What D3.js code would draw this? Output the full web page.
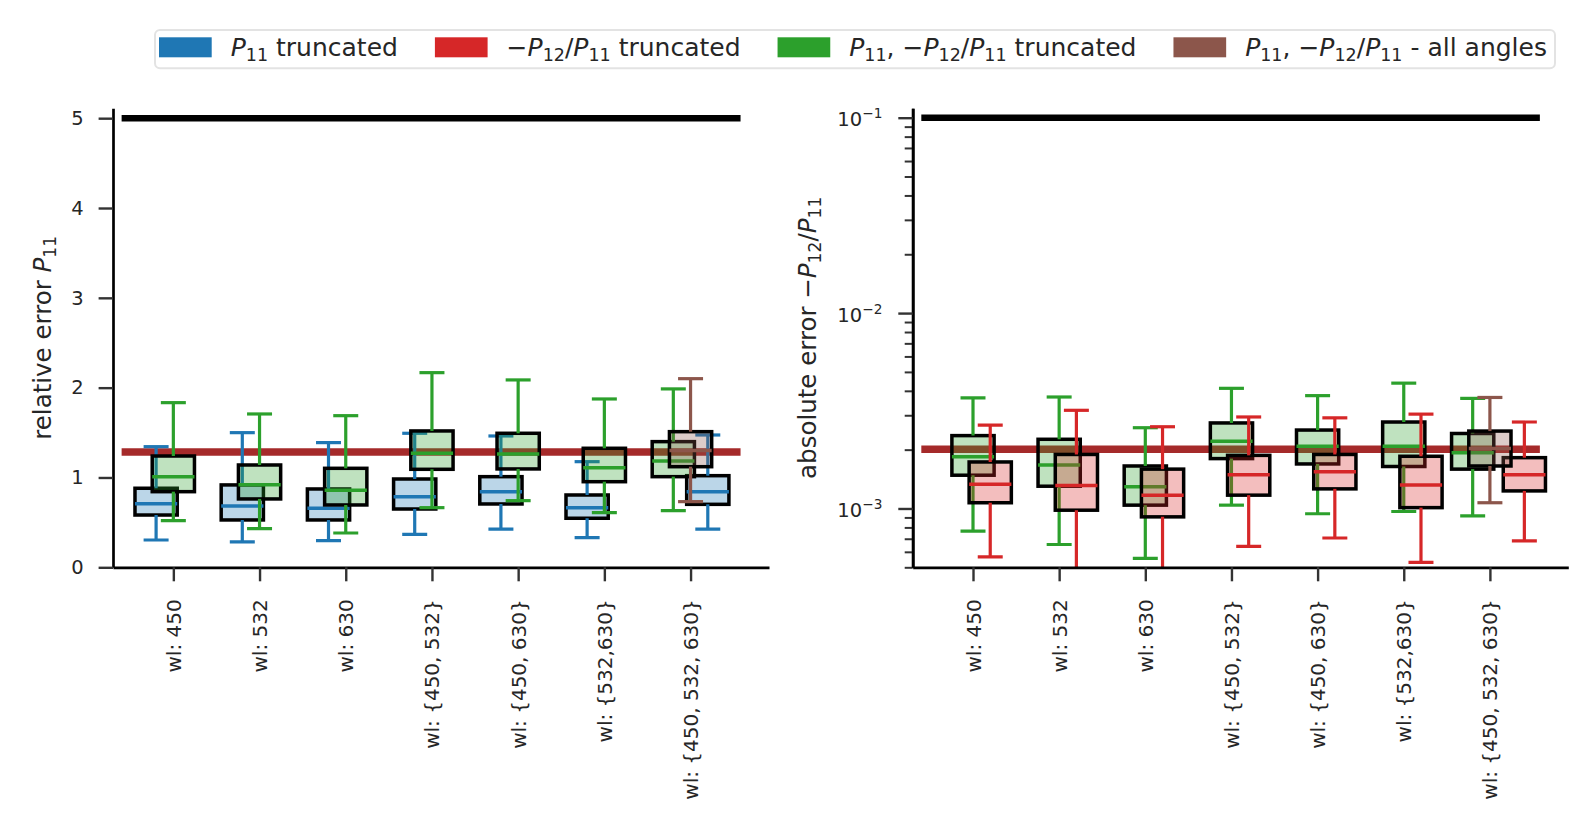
<!DOCTYPE html>
<html>
<head>
<meta charset="utf-8">
<script src="https://cdn.jsdelivr.net/npm/d3@7"></script>
<style>
  body { margin: 0; background: #fff; }
  svg { display: block; }
  text { font-family: "DejaVu Sans", sans-serif; fill: #262626; }
</style>
</head>
<body>
<div id="chart"></div>
<script>
// categories
const groups = ["wl: 450", "wl: 532", "wl: 630", "wl: {450, 532}", "wl: {450, 630}", "wl: {532,630}", "wl: {450, 532, 630}"];

// five-number boxes [lower whisker, q1, median, q3, upper whisker], one per group
// left panel: relative error P11
const relP11Trunc = [
  [0.304, 0.582, 0.708, 0.880, 1.343],
  [0.282, 0.527, 0.683, 0.917, 1.499],
  [0.297, 0.527, 0.657, 0.872, 1.388],
  [0.367, 0.649, 0.786, 0.983, 1.492],
  [0.426, 0.705, 0.842, 1.009, 1.462],
  [0.330, 0.546, 0.664, 0.805, 1.176],
  [0.426, 0.701, 0.842, 1.020, 1.473]
];
const relBothTrunc = [
  [0.519, 0.842, 1.009, 1.239, 1.833],
  [0.430, 0.761, 0.920, 1.139, 1.707],
  [0.382, 0.694, 0.857, 1.102, 1.688],
  [0.664, 1.091, 1.269, 1.518, 2.167],
  [0.742, 1.095, 1.262, 1.492, 2.086],
  [0.608, 0.953, 1.109, 1.325, 1.874],
  [0.630, 1.009, 1.184, 1.399, 1.986]
];
const relAllAngles = [null, null, null, null, null, null,
  [0.731, 1.120, 1.299, 1.510, 2.100]
];
const relRefLine = 1.284;
const relTopLine = 5;

// right panel: absolute error -P12/P11
const absBothTrunc = [
  [7.65e-4, 1.48e-3, 1.84e-3, 2.36e-3, 3.68e-3],
  [6.54e-4, 1.30e-3, 1.67e-3, 2.26e-3, 3.72e-3],
  [5.55e-4, 1.04e-3, 1.29e-3, 1.65e-3, 2.59e-3],
  [1.04e-3, 1.80e-3, 2.21e-3, 2.74e-3, 4.12e-3],
  [9.40e-4, 1.69e-3, 2.08e-3, 2.52e-3, 3.78e-3],
  [9.65e-4, 1.64e-3, 2.08e-3, 2.77e-3, 4.38e-3],
  [9.17e-4, 1.59e-3, 1.93e-3, 2.42e-3, 3.66e-3]
];
const absP12Trunc = [
  [5.65e-4, 1.07e-3, 1.33e-3, 1.73e-3, 2.67e-3],
  [4.40e-4, 9.80e-4, 1.31e-3, 1.89e-3, 3.18e-3],
  [4.50e-4, 9.06e-4, 1.17e-3, 1.59e-3, 2.62e-3],
  [6.40e-4, 1.17e-3, 1.49e-3, 1.87e-3, 2.94e-3],
  [7.06e-4, 1.26e-3, 1.54e-3, 1.89e-3, 2.91e-3],
  [5.30e-4, 1.01e-3, 1.32e-3, 1.85e-3, 3.04e-3],
  [6.82e-4, 1.23e-3, 1.49e-3, 1.82e-3, 2.77e-3]
];
const absAllAngles = [null, null, null, null, null, null,
  [1.07e-3, 1.65e-3, 2.03e-3, 2.49e-3, 3.70e-3]
];
const absRefLine = 2.01e-3;
const absTopLine = 0.1;

const relTicks = [0, 1, 2, 3, 4, 5];
const absTicks = [1e-3, 1e-2, 1e-1];
const absTickExp = ["−3", "−2", "−1"];

const colors = { blue: "#1f77b4", red: "#d62728", green: "#2ca02c", brown: "#8c564b" };

const legendItems = [
  { color: colors.blue,  parts: [["P", "i"], ["11", "sub"], [" truncated", ""]] },
  { color: colors.red,   parts: [["−", ""], ["P", "i"], ["12", "sub"], ["/", ""], ["P", "i"], ["11", "sub"], [" truncated", ""]] },
  { color: colors.green, parts: [["P", "i"], ["11", "sub"], [", −", ""], ["P", "i"], ["12", "sub"], ["/", ""], ["P", "i"], ["11", "sub"], [" truncated", ""]] },
  { color: colors.brown, parts: [["P", "i"], ["11", "sub"], [", −", ""], ["P", "i"], ["12", "sub"], ["/", ""], ["P", "i"], ["11", "sub"], [" - all angles", ""]] }
];

const W = 1596, H = 835;
const plotTop = 108.3, plotBottom = 567.3;
const boxW = 0.49, capW = 0.29;
const xTickFont = 20, yTickFont = 19.5, labelFont = 24.5, legendFont = 25;

const svg = d3.select("#chart").append("svg")
  .attr("width", W)
  .attr("height", H)
  .style("background", "#fff");

// text with italic / subscript / superscript parts
function rich(sel, parts, fs) {
  let shift = 0;
  parts.forEach(([t, k]) => {
    const ts = sel.append("tspan").text(t);
    let target = 0;
    if (k === "sub") { ts.attr("font-size", fs * 0.7); target = fs * 0.22; }
    if (k === "sup") { ts.attr("font-size", fs * 0.7); target = -fs * 0.42; }
    if (k === "i") ts.attr("font-style", "italic");
    if (target - shift !== 0) ts.attr("dy", target - shift);
    shift = target;
  });
}

function drawSeries(g, x, y, data, color, offset) {
  const items = data.map((d, i) => ({ d, i })).filter(e => e.d);
  const bx = g.selectAll(null).data(items).join("g");
  const half = (x(boxW) - x(0)) / 2;
  const capHalf = (x(capW) - x(0)) / 2;
  bx.each(function (e) {
    const s = d3.select(this);
    const [lo, q1, med, q3, hi] = e.d;
    const cx = x(e.i + offset(e.i));
    s.append("rect")
      .attr("x", cx - half).attr("width", 2 * half)
      .attr("y", y(q3)).attr("height", y(q1) - y(q3))
      .attr("fill", color).attr("fill-opacity", 0.3)
      .attr("stroke", "#000").attr("stroke-width", 3.5);
    s.append("line").attr("x1", cx).attr("x2", cx).attr("y1", y(q3)).attr("y2", y(hi))
      .attr("stroke", color).attr("stroke-width", 3.2);
    s.append("line").attr("x1", cx).attr("x2", cx).attr("y1", y(q1)).attr("y2", y(lo))
      .attr("stroke", color).attr("stroke-width", 3.2);
    [lo, hi].forEach(v => {
      s.append("line").attr("x1", cx - capHalf).attr("x2", cx + capHalf)
        .attr("y1", y(v)).attr("y2", y(v))
        .attr("stroke", color).attr("stroke-width", 3.2);
    });
    s.append("line").attr("x1", cx - half).attr("x2", cx + half)
      .attr("y1", y(med)).attr("y2", y(med))
      .attr("stroke", color).attr("stroke-width", 3.5);
  });
}

function styleAxis(ax, fs) {
  ax.select(".domain").attr("stroke", "#000").attr("stroke-width", 2.7);
  ax.selectAll(".tick line").attr("stroke", "#333").attr("stroke-width", 2.4);
  ax.selectAll(".tick text").attr("font-size", fs).attr("fill", "#262626")
    .attr("font-family", "DejaVu Sans");
}

function panel(id, xRange, y, series, refLine, topLine, yAxisFn, labelParts, labelX) {
  const x = d3.scaleLinear().domain([-0.7, 6.91]).range(xRange);
  const g = svg.append("g");

  g.append("clipPath").attr("id", id)
    .append("rect").attr("x", xRange[0]).attr("y", plotTop)
    .attr("width", xRange[1] - xRange[0]).attr("height", plotBottom - plotTop);

  const inner = g.append("g").attr("clip-path", `url(#${id})`);

  inner.append("line")
    .attr("x1", x(-0.6)).attr("x2", x(6.58))
    .attr("y1", y(topLine)).attr("y2", y(topLine))
    .attr("stroke", "#000").attr("stroke-width", 6.6);
  inner.append("line")
    .attr("x1", x(-0.6)).attr("x2", x(6.58))
    .attr("y1", y(refLine)).attr("y2", y(refLine))
    .attr("stroke", "#a52a2a").attr("stroke-width", 7.5);

  series.forEach(s => drawSeries(inner.append("g"), x, y, s.data, s.color, s.offset));

  // x axis
  const xa = g.append("g")
    .attr("transform", `translate(0,${plotBottom})`)
    .call(d3.axisBottom(x).tickValues(d3.range(groups.length))
      .tickFormat(i => groups[i]).tickSize(14).tickSizeOuter(0));
  styleAxis(xa, xTickFont);
  xa.selectAll(".tick text")
    .attr("transform", "rotate(-90)")
    .attr("x", -32).attr("y", 0).attr("dy", "0.35em")
    .attr("text-anchor", "end");

  // y axis
  const ya = g.append("g").attr("transform", `translate(${xRange[0]},0)`);
  yAxisFn(ya);

  // y label
  const lab = g.append("text")
    .attr("transform", `translate(${labelX},${(plotTop + plotBottom) / 2}) rotate(-90)`)
    .attr("text-anchor", "middle")
    .attr("font-size", labelFont);
  rich(lab, labelParts, labelFont);
}

// left panel
const yRel = d3.scaleLinear().domain([0, 5.11]).range([plotBottom, plotTop]);
panel("clipL", [113, 769], yRel, [
  { data: relP11Trunc,  color: colors.blue,  offset: i => (i === 6 ? 0.2 : -0.2) },
  { data: relBothTrunc, color: colors.green, offset: i => (i === 6 ? -0.2 : 0) },
  { data: relAllAngles, color: colors.brown, offset: () => 0 }
], relRefLine, relTopLine, ya => {
  ya.call(d3.axisLeft(yRel).tickValues(relTicks).tickFormat(d3.format("d"))
    .tickSize(14.4).tickPadding(15).tickSizeOuter(0));
  styleAxis(ya, yTickFont);
}, [["relative error ", ""], ["P", "i"], ["11", "sub"]], 51);

// right panel
const yAbs = d3.scaleLog().domain([5e-4, 0.1117]).range([plotBottom, plotTop]);
const minorTicks = [];
[1e-4, 1e-3, 1e-2].forEach(b => d3.range(2, 10).forEach(m => {
  const v = m * b;
  if (v >= 5e-4 && v <= 0.1117) minorTicks.push(v);
}));
panel("clipR", [912.7, 1568.3], yAbs, [
  { data: absBothTrunc, color: colors.green, offset: i => (i === 6 ? -0.2 : 0) },
  { data: absP12Trunc,  color: colors.red,   offset: i => (i === 6 ? 0.4 : 0.2) },
  { data: absAllAngles, color: colors.brown, offset: () => 0 }
], absRefLine, absTopLine, ya => {
  const mi = ya.append("g").call(d3.axisLeft(yAbs).tickValues(minorTicks)
    .tickFormat("").tickSize(8).tickSizeOuter(0));
  styleAxis(mi, yTickFont);
  mi.selectAll(".tick line").attr("stroke-width", 2);
  const ma = ya.append("g").call(d3.axisLeft(yAbs).tickValues(absTicks)
    .tickFormat("").tickSize(14.4).tickPadding(16).tickSizeOuter(0));
  styleAxis(ma, yTickFont);
  ma.selectAll(".tick text").each(function (d, i) {
    const t = d3.select(this).text("").attr("dy", "0.42em");
    rich(t, [["10", ""], [absTickExp[i], "sup"]], yTickFont);
  });
}, [["absolute error −", ""], ["P", "i"], ["12", "sub"], ["/", ""], ["P", "i"], ["11", "sub"]], 816);

// legend
const lg = svg.append("g");
const frame = lg.append("rect")
  .attr("x", 155).attr("y", 30).attr("height", 38.3).attr("rx", 5)
  .attr("fill", "#fff").attr("fill-opacity", 0.8)
  .attr("stroke", "#e3e3e3").attr("stroke-width", 2);
let lx = 159;
legendItems.forEach(it => {
  lg.append("rect").attr("x", lx).attr("y", 37.3)
    .attr("width", 52.7).attr("height", 20).attr("fill", it.color);
  const t = lg.append("text").attr("x", lx + 71.7).attr("y", 55.5).attr("font-size", legendFont);
  rich(t, it.parts, legendFont);
  lx += 71.7 + t.node().getComputedTextLength() + 37;
});
frame.attr("width", lx - 37 + 8 - 155);
</script>
</body>
</html>
